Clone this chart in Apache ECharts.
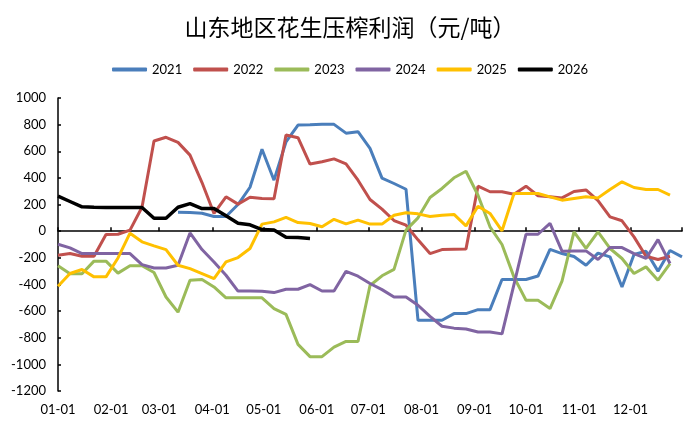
<!DOCTYPE html>
<html>
<head>
<meta charset="utf-8">
<title>山东地区花生压榨利润</title>
<script src="https://cdn.jsdelivr.net/npm/echarts@6.0.0/dist/echarts.min.js"></script>
<style>
  html, body { margin: 0; padding: 0; background: #fff; }
  #main { width: 700px; height: 429px; }
</style>
</head>
<body>
<div id="main"></div>
<script>
// weekly values, week k sits on day 7*k of the year (null = no data)
var v2021 = [null, null, null, null, null, null, null, null, null, null,
  143, 140, 135, 110, 110, 200, 330, 615, 383, 670, 797, 799, 802, 802, 736, 747, 622, 398, 358, 315,
  -669, -669, -669, -619, -619, -589, -589, -363, -363, -363, -337, -137, -168, -190, -256, -165, -193,
  -419, -175, -150, -300, -145, -193];
var v2022 = [-180, -168, -188, -188, -25, -23, 8, 180, 677, 705, 667, 571, 365, 133, 258, 203, 255, 246,
  244, 722, 702, 504, 521, 543, 506, 383, 238, 165, 80, 45, -65, -168, -138, -135, -133, 338, 296, 296,
  278, 338, 266, 258, 250, 298, 310, 230, 108, 78, -43, -188, -213, -188];
var v2023 = [-260, -320, -320, -225, -225, -315, -260, -260, -310, -494, -608, -368, -363, -419, -500,
  -500, -500, -500, -581, -625, -850, -942, -942, -870, -828, -828, -408, -335, -287, 8, 100, 253, 321,
  401, 450, 270, 33, -100, -345, -519, -519, -581, -375, -5, -130, -5, -130, -205, -318, -268, -368, -243];
var v2024 = [-98, -125, -168, -168, -168, -168, -168, -251, -276, -276, -256, -13, -138, -231, -331,
  -450, -450, -451, -461, -436, -436, -401, -449, -449, -301, -338, -393, -439, -494, -494, -556, -639,
  -714, -728, -735, -757, -757, -771, -400, -23, -23, 58, -150, -148, -148, -213, -123, -123, -168, -205,
  -63, -243];
var v2025 = [-414, -318, -288, -343, -343, -201, -15, -80, -110, -138, -256, -281, -318, -356, -231,
  -198, -130, 53, 70, 103, 65, 58, 33, 89, 55, 83, 53, 53, 120, 138, 130, 110, 119, 126, 40, 187, 133, 3,
  283, 283, 283, 258, 233, 246, 258, 250, 313, 371, 328, 313, 313, 271];
var v2026 = [263, 223, 183, 180, 178, 178, 178, 178, 97, 97, 180, 207, 170, 170, 115, 60, 48, 12, 8,
  -45, -48, -55];

var seriesNames = ['2021', '2022', '2023', '2024', '2025', '2026'];
var seriesValues = [v2021, v2022, v2023, v2024, v2025, v2026];
var seriesColors = ['#4A7EBB', '#C0504D', '#9BBB59', '#8064A2', '#FFC000', '#000000'];

// day categories of one year, ticks / labels on the first day of each month
var monthDays = [31, 28, 31, 30, 31, 30, 31, 31, 30, 31, 30, 31];
var monthStart = [0, 31, 59, 90, 120, 151, 181, 212, 243, 273, 304, 334];
var monthLabels = ['01-01', '02-01', '03-01', '04-01', '05-01', '06-01',
  '07-01', '08-01', '09-01', '10-01', '11-01', '12-01'];

var days = [];
for (var m = 0; m < 12; m++) {
  for (var d = 1; d <= monthDays[m]; d++) {
    days.push((m < 9 ? '0' : '') + (m + 1) + '-' + (d < 10 ? '0' : '') + d);
  }
}

var font = 'Lato, "Noto Sans CJK SC", sans-serif';

var series = [];
for (var i = 0; i < seriesNames.length; i++) {
  var pts = [];
  for (var k = 0; k < seriesValues[i].length; k++) {
    if (seriesValues[i][k] !== null) pts.push([k * 7, seriesValues[i][k]]);
  }
  series.push({
    name: seriesNames[i],
    type: 'line',
    xAxisIndex: 0,
    data: pts,
    symbol: 'none',
    color: seriesColors[i],
    lineStyle: { width: i === 5 ? 3.5 : 3, color: seriesColors[i] }
  });
}

var chart = echarts.init(document.getElementById('main'));
chart.setOption({
  animation: false,
  backgroundColor: '#fff',
  title: {
    text: '山东地区花生压榨利润（元/吨）',
    left: 'center',
    top: 11,
    textStyle: { fontFamily: '"Noto Sans CJK SC", sans-serif', fontSize: 23, fontWeight: 'normal', color: '#000' }
  },
  legend: {
    top: 58,
    left: 'center',
    icon: 'roundRect',
    itemWidth: 35,
    itemHeight: 4,
    itemGap: 11,
    data: seriesNames,
    textStyle: { fontFamily: font, fontSize: 13, color: '#000' }
  },
  grid: { left: 58, right: 18, top: 98, bottom: 38 },
  xAxis: [{
    type: 'category',
    data: days,
    boundaryGap: false,
    axisLine: { onZero: true, lineStyle: { color: '#000', width: 1.5 } },
    axisTick: {
      inside: true, length: 4,
      interval: function (idx) { return monthStart.indexOf(idx) >= 0 || idx === days.length - 1; },
      lineStyle: { color: '#000', width: 1.5 }
    },
    axisLabel: { show: false },
    splitLine: { show: false }
  }, {
    type: 'category',
    position: 'bottom',
    data: days,
    boundaryGap: false,
    axisLine: { show: false, onZero: false },
    axisTick: { show: false },
    axisLabel: {
      margin: 12,
      fontFamily: font, fontSize: 13, color: '#000',
      interval: function (idx) { return monthStart.indexOf(idx) >= 0; },
      formatter: function (val, idx) {
        var m = monthStart.indexOf(idx);
        return m >= 0 ? monthLabels[m] : '';
      }
    },
    splitLine: { show: false }
  }],
  yAxis: {
    type: 'value',
    min: -1200,
    max: 1000,
    interval: 200,
    axisLine: { show: true, lineStyle: { color: '#000', width: 1.5 } },
    axisTick: { show: true, inside: true, length: 3, lineStyle: { color: '#000', width: 1.5 } },
    axisLabel: {
      margin: 12, fontFamily: font, fontSize: 13, color: '#000',
      formatter: function (v) { return String(v); }
    },
    splitLine: { show: false }
  },
  series: series
});
</script>
</body>
</html>
